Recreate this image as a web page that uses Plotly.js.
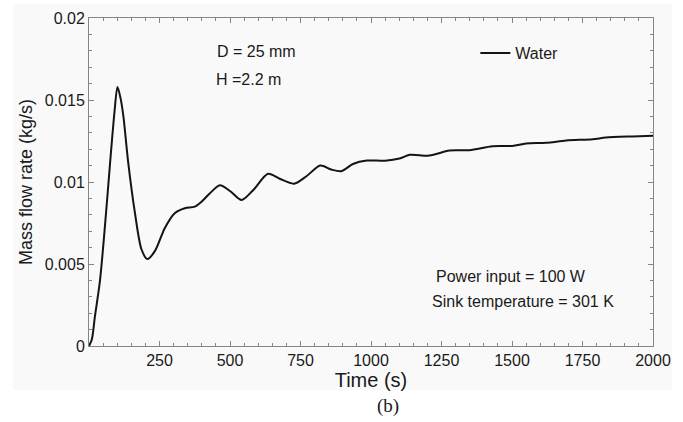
<!DOCTYPE html>
<html>
<head>
<meta charset="utf-8">
<script src="https://cdn.plot.ly/plotly-3.0.1.min.js"></script>
<style>
html,body{margin:0;padding:0;background:#ffffff;}
#chart{width:683px;height:422px;}
</style>
</head>
<body>
<div id="chart"></div>
<script>
// Time (s)
const time = [0, 10, 21, 39, 57, 74, 90, 101, 112, 122, 139, 163, 186, 207, 234, 269, 304, 340, 375, 399, 428, 464, 500, 541, 582, 635, 676, 727, 771, 820, 859, 895, 936, 985, 1050, 1101, 1137, 1207, 1278, 1349, 1431, 1501, 1550, 1621, 1692, 1786, 1833, 1927, 2000];
// Mass flow rate (kg/s)
const massFlow = [0, 0.0004, 0.0018, 0.0040, 0.0074, 0.0110, 0.0142, 0.0158, 0.0151, 0.0140, 0.0112, 0.0081, 0.0059, 0.0053, 0.0058, 0.0072, 0.0081, 0.0084, 0.0085, 0.0088, 0.0093, 0.0098, 0.00945, 0.0089, 0.0095, 0.0105, 0.0102, 0.0099, 0.01035, 0.0110, 0.01076, 0.01066, 0.0111, 0.01131, 0.0113, 0.01143, 0.01166, 0.01161, 0.01192, 0.01194, 0.01218, 0.0122, 0.01235, 0.01239, 0.01253, 0.01261, 0.01271, 0.01278, 0.01282];
const seriesName = "Water";
const xTickVals = [250, 500, 750, 1000, 1250, 1500, 1750, 2000];
const xTickText = ["250", "500", "750", "1000", "1250", "1500", "1750", "2000"];
const yTickVals = [0, 0.005, 0.01, 0.015, 0.02];
const yTickText = ["0", "0.005", "0.01", "0.015", "0.02"];

const FONT = "Liberation Sans, Arial, sans-serif";
const axisCol = "#858585";

const trace = {
  x: time, y: massFlow, name: seriesName, type: "scatter", mode: "lines",
  line: {color: "#141414", width: 2, shape: "spline", smoothing: 0.8}
};

const layout = {
  width: 683, height: 422,
  margin: {l: 89, r: 30, t: 18, b: 76},
  paper_bgcolor: "#ffffff",
  plot_bgcolor: "rgba(0,0,0,0)",
  font: {family: FONT, color: "#1a1a1a", size: 16},
  showlegend: true,
  legend: {x: 0.685, y: 0.893, xanchor: "left", yanchor: "middle",
           bgcolor: "rgba(0,0,0,0)", font: {family: FONT, size: 16, color: "#1a1a1a"}},
  xaxis: {
    range: [0, 2000], tickvals: xTickVals, ticktext: xTickText,
    ticks: "inside", ticklen: 5, tickcolor: axisCol, tickwidth: 1,
    minor: {dtick: 50, ticks: "inside", ticklen: 3, tickcolor: axisCol},
    showline: true, linecolor: axisCol, linewidth: 1, mirror: "allticks",
    showgrid: false, zeroline: false,
    tickfont: {family: FONT, size: 16, color: "#1a1a1a"},
    title: {text: "Time (s)", font: {family: FONT, size: 20, color: "#1a1a1a"}, standoff: 2}
  },
  yaxis: {
    range: [0, 0.02], tickvals: yTickVals, ticktext: yTickText,
    ticks: "inside", ticklen: 5, tickcolor: axisCol, tickwidth: 1,
    minor: {dtick: 0.001, ticks: "inside", ticklen: 3, tickcolor: axisCol},
    showline: true, linecolor: axisCol, linewidth: 1, mirror: "allticks",
    showgrid: false, zeroline: false,
    tickfont: {family: FONT, size: 16, color: "#1a1a1a"},
    title: {text: "Mass flow rate (kg/s)", font: {family: FONT, size: 18, color: "#1a1a1a"}, standoff: 7}
  },
  shapes: [{
    type: "rect", xref: "paper", yref: "paper", layer: "below",
    x0: -0.1348, x1: 1.0337, y0: -0.134, y1: 1.0427,
    fillcolor: "#f9f9f9", line: {width: 0}
  }],
  annotations: [
    {xref: "x", yref: "y", x: 446, y: 0.01797, xanchor: "left", yanchor: "middle", showarrow: false,
     text: "D = 25 mm", font: {family: FONT, size: 16, color: "#1a1a1a"}},
    {xref: "x", yref: "y", x: 443, y: 0.01626, xanchor: "left", yanchor: "middle", showarrow: false,
     text: "H =2.2 m", font: {family: FONT, size: 16, color: "#1a1a1a"}},
    {xref: "x", yref: "y", x: 1225, y: 0.00422, xanchor: "left", yanchor: "middle", showarrow: false,
     text: "Power input = 100 W", font: {family: FONT, size: 16, color: "#1a1a1a"}},
    {xref: "x", yref: "y", x: 1208, y: 0.00269, xanchor: "left", yanchor: "middle", showarrow: false,
     text: "Sink temperature = 301 K", font: {family: FONT, size: 16, color: "#1a1a1a"}},
    {xref: "paper", yref: "paper", x: (388 - 89) / 564, y: (346 - 406) / 328, xanchor: "center", yanchor: "middle",
     showarrow: false, text: "(b)", font: {family: "Liberation Serif, Times New Roman, serif", size: 19, color: "#1a1a1a"}}
  ]
};

Plotly.newPlot("chart", [trace], layout, {displayModeBar: false, staticPlot: true});
</script>
</body>
</html>
